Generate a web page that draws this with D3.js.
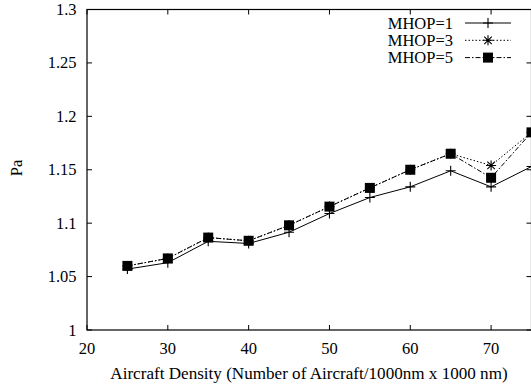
<!DOCTYPE html>
<html><head><meta charset="utf-8">
<script src="https://cdn.jsdelivr.net/npm/d3@7"></script>
<style>body{margin:0;background:#fff}svg{display:block}</style>
</head><body><svg id="c" width="531" height="387"></svg>
<script>
const xValues=[25,30,35,40,45,50,55,60,65,70,75];
const mhop1=[1.057,1.063,1.083,1.081,1.0915,1.109,1.124,1.134,1.149,1.134,1.153];
const mhop3=[1.060,1.067,1.0865,1.0835,1.098,1.1155,1.133,1.150,1.165,1.154,1.185];
const mhop5=[1.060,1.067,1.0865,1.0835,1.098,1.1155,1.133,1.150,1.165,1.1425,1.185];
const seriesNames=["MHOP=1","MHOP=3","MHOP=5"];
const xTicks=[20,30,40,50,60,70];
const yTicks=[1,1.05,1.1,1.15,1.2,1.25,1.3];
const yTickLabels=["1","1.05","1.1","1.15","1.2","1.25","1.3"];

const FONT="'Liberation Serif', 'Times New Roman', Times, serif";
const FS=16.5;
const svg=d3.select("#c");
const L=87,R=531.5,T=9.5,B=330;
const x=d3.scaleLinear().domain([20,75]).range([L,R]);
const y=d3.scaleLinear().domain([1,1.3]).range([B,T]);
const tl=5;
const g=svg.append("g");
function txt(xp,yp,anchor,s){return g.append("text").attr("x",xp).attr("y",yp).attr("text-anchor",anchor).attr("font-family",FONT).attr("font-size",FS).attr("fill","#000").text(s);}
g.append("rect").attr("x",L).attr("y",T).attr("width",R-L).attr("height",B-T).attr("fill","none").attr("stroke","#000").attr("stroke-width",1.2);
xTicks.forEach(v=>{
  g.append("line").attr("x1",x(v)).attr("x2",x(v)).attr("y1",B).attr("y2",B-tl).attr("stroke","#000");
  g.append("line").attr("x1",x(v)).attr("x2",x(v)).attr("y1",T).attr("y2",T+tl).attr("stroke","#000");
  txt(x(v),354,"middle",v);
});
yTicks.forEach((v,i)=>{
  g.append("line").attr("x1",L).attr("x2",L+tl).attr("y1",y(v)).attr("y2",y(v)).attr("stroke","#000");
  g.append("line").attr("x1",R).attr("x2",R-tl).attr("y1",y(v)).attr("y2",y(v)).attr("stroke","#000");
  txt(76.5,y(v)+5.5,"end",yTickLabels[i]);
});
txt(309,379,"middle","Aircraft Density (Number of Aircraft/1000nm x 1000 nm)").attr("font-size",17.1);
txt(0,0,"middle","Pa").attr("transform","translate(22,168) rotate(-90)");

const dashes=[null,"1.5,2","5,2,1.5,2"];
const data=[mhop1,mhop3,mhop5];
const line=d3.line().x((d,i)=>x(xValues[i])).y(d=>y(d));
function marker(sel,k,cx,cy){
  if(k===0){
    sel.append("path").attr("d",`M${cx-5},${cy}H${cx+5}M${cx},${cy-5}V${cy+5}`).attr("stroke","#000").attr("stroke-width",1.1).attr("fill","none");
  }else if(k===1){
    const s=5;
    sel.append("path").attr("d",`M${cx-s},${cy}H${cx+s}M${cx},${cy-s}V${cy+s}M${cx-s*0.75},${cy-s*0.75}L${cx+s*0.75},${cy+s*0.75}M${cx-s*0.75},${cy+s*0.75}L${cx+s*0.75},${cy-s*0.75}`).attr("stroke","#000").attr("stroke-width",1.1).attr("fill","none");
  }else{
    sel.append("rect").attr("x",cx-5).attr("y",cy-5).attr("width",10).attr("height",10).attr("fill","#000");
  }
}
data.forEach((arr,k)=>{
  const p=g.append("path").attr("d",line(arr)).attr("fill","none").attr("stroke","#000").attr("stroke-width",1);
  if(dashes[k])p.attr("stroke-dasharray",dashes[k]);
  arr.forEach((v,i)=>marker(g,k,x(xValues[i]),y(v)));
});
seriesNames.forEach((n,k)=>{
  const cy=23+k*17.3;
  txt(453,cy+5.5,"end",n);
  const l=g.append("line").attr("x1",465).attr("x2",511).attr("y1",cy).attr("y2",cy).attr("stroke","#000").attr("stroke-width",1);
  if(dashes[k])l.attr("stroke-dasharray",dashes[k]);
  marker(g,k,488,cy);
});
</script></body></html>
